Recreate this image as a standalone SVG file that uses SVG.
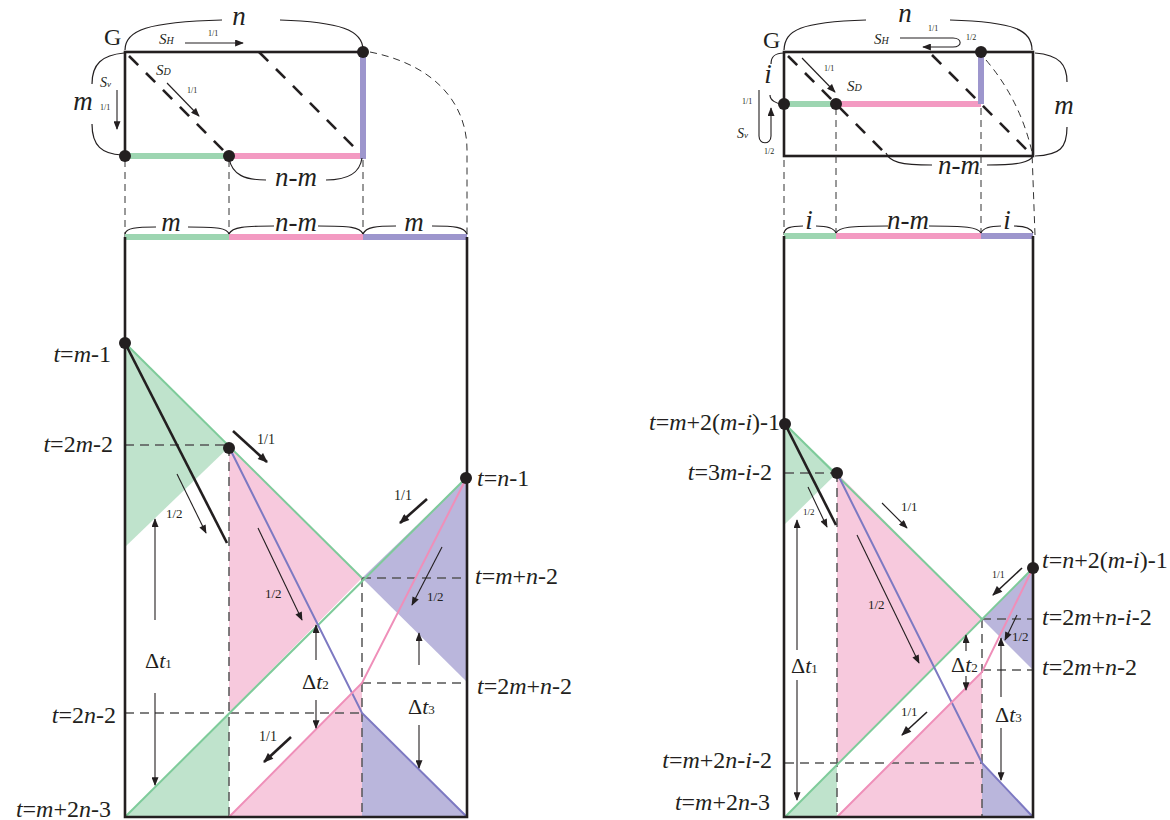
<svg xmlns="http://www.w3.org/2000/svg" width="1170" height="820" viewBox="0 0 1170 820">
<defs>
<style>
text{font-family:"Liberation Serif","Times New Roman",serif;fill:#231f20}
.it{font-style:italic}
.t24{font-size:24px}
.big{font-size:27px;font-style:italic}
.s14{font-size:14px}
.s13{font-size:13px}
.s10{font-size:10px}
.s8{font-size:8px}
.frame{fill:none;stroke:#231f20;stroke-width:2.6}
.brace{fill:none;stroke:#231f20;stroke-width:1.2}
.vd{fill:none;stroke:#333;stroke-width:1;stroke-dasharray:7 5}
.gd{fill:none;stroke:#555;stroke-width:1.5;stroke-dasharray:9 6}
.bd{fill:none;stroke:#231f20;stroke-width:2.6;stroke-dasharray:13 11}
.gf{fill:#bfe3cc}
.pf{fill:#f7c9dd}
.uf{fill:#bab6dc}
.gl{fill:none;stroke:#7ecb9a;stroke-width:2}
.pl{fill:none;stroke:#ef8fb9;stroke-width:2}
.ul{fill:none;stroke:#7d79c2;stroke-width:2}
.gb{stroke:#9dd5b1;stroke-width:6}
.pb{stroke:#f39ac2;stroke-width:6}
.ub{stroke:#9d96cd;stroke-width:6}
.thick{stroke:#231f20;stroke-width:2.6;fill:none;marker-end:url(#ah)}
.mid{stroke:#231f20;stroke-width:1.6;fill:none;marker-end:url(#ah)}
.thin{stroke:#231f20;stroke-width:1.1;fill:none;marker-end:url(#as)}
.dot{fill:#231f20}
</style>
<marker id="ah" viewBox="0 0 10 8" refX="9" refY="4" markerWidth="11" markerHeight="8" markerUnits="userSpaceOnUse" orient="auto"><path d="M0,0 L10,4 L0,8 z" fill="#231f20"/></marker>
<marker id="as" viewBox="0 0 10 8" refX="9" refY="4" markerWidth="10" markerHeight="7" markerUnits="userSpaceOnUse" orient="auto"><path d="M0,0 L10,4 L0,8 z" fill="#231f20"/></marker>
</defs>

<!-- ================= LEFT DIAGRAM ================= -->
<g id="left-top">
  <rect x="125" y="52" width="238" height="104" class="frame"/>
  <line x1="125" y1="156" x2="229" y2="156" class="gb"/>
  <line x1="229" y1="156" x2="363" y2="156" class="pb"/>
  <line x1="363" y1="55" x2="363" y2="159" class="ub"/>
  <line x1="129" y1="56" x2="226" y2="153" class="bd"/>
  <line x1="259" y1="52" x2="358" y2="151" class="bd"/>
  <path d="M370,52 C440,66 467,108 467,150 L467,237" class="vd"/>
  <line x1="125" y1="160" x2="125" y2="237" class="vd"/>
  <line x1="229" y1="160" x2="229" y2="237" class="vd"/>
  <line x1="363" y1="160" x2="363" y2="237" class="vd"/>
  <path d="M125,50 C125,30 148,22 222,20 M280,20 C340,22 363,30 363,50" class="brace"/>
  <path d="M124,53 C102,55 92,64 92,84 M92,124 C92,146 102,154 122,155" class="brace"/>
  <path d="M229,158 C232,175 245,180 266,180 M326,180 C350,180 360,172 362,158" class="brace"/>
  <text x="239" y="25" class="big" text-anchor="middle">n</text>
  <text x="83" y="110" class="big" text-anchor="middle">m</text>
  <text x="296" y="186" class="big" text-anchor="middle">n-m</text>
  <text x="104" y="45" style="font-size:24px">G</text>
  <text x="159" y="44" class="it" style="font-size:15px">S<tspan style="font-size:10px">H</tspan></text>
  <line x1="185" y1="43" x2="243" y2="43" class="thin"/>
  <text x="208" y="36" class="s8">1/1</text>
  <text x="156" y="75" class="it" style="font-size:15px">S<tspan style="font-size:10px">D</tspan></text>
  <line x1="167" y1="83" x2="199" y2="116" class="thin"/>
  <text x="187" y="93" class="s8">1/1</text>
  <text x="100" y="87" class="it" style="font-size:14px">S<tspan style="font-size:9px">v</tspan></text>
  <line x1="117" y1="90" x2="117" y2="129" class="thin"/>
  <text x="100" y="110" class="s8">1/1</text>
  <circle cx="363" cy="52" r="6" class="dot"/>
  <circle cx="125" cy="156" r="6" class="dot"/>
  <circle cx="229" cy="156" r="6" class="dot"/>
</g>

<g id="left-bar">
  <line x1="125" y1="237" x2="229" y2="237" class="gb"/>
  <line x1="229" y1="237" x2="363" y2="237" class="pb"/>
  <line x1="363" y1="237" x2="467" y2="237" class="ub"/>
  <path d="M125,234 C126,228 136,227 156,227 M188,227 C218,227 227,228 229,234" class="brace"/>
  <path d="M229,234 C232,227 245,226 274,226 M318,226 C350,226 360,227 363,234" class="brace"/>
  <path d="M363,234 C366,227 376,226 396,226 M432,226 C455,226 464,227 467,234" class="brace"/>
  <text x="171" y="231" class="big" text-anchor="middle">m</text>
  <text x="296" y="231" class="big" text-anchor="middle">n-m</text>
  <text x="414" y="231" class="big" text-anchor="middle">m</text>
</g>

<g id="left-regions">
  <polygon points="125,343 229,447 125,547" class="gf"/>
  <polygon points="229,447 362,578 229,713" class="pf"/>
  <polygon points="467,477 362,578 467,682" class="uf"/>
  <polygon points="125,817 229,713 229,817" class="gf"/>
  <polygon points="229,817 362,683 362,817" class="pf"/>
  <polygon points="362,713 467,817 362,817" class="uf"/>
</g>

<g id="left-connectors">
  <line x1="125" y1="445" x2="229" y2="445" class="gd"/>
  <line x1="229" y1="447" x2="229" y2="817" class="gd"/>
  <line x1="362" y1="578" x2="362" y2="817" class="gd"/>
  <line x1="362" y1="578" x2="467" y2="578" class="gd"/>
  <line x1="362" y1="683" x2="467" y2="683" class="gd"/>
  <line x1="125" y1="713" x2="362" y2="713" class="gd"/>
  <line x1="125" y1="343" x2="362" y2="578" class="gl"/>
  <line x1="125" y1="817" x2="467" y2="477" class="gl"/>
  <polyline points="229,447 362,713 467,817" class="ul"/>
  <polyline points="229,817 362,683 467,477" class="pl"/>
  <line x1="125" y1="343" x2="227" y2="543" stroke="#231f20" stroke-width="2.6"/>
  <line x1="233" y1="431" x2="267" y2="462" class="thick"/>
  <line x1="177" y1="474" x2="206" y2="533" class="thin"/>
  <line x1="155" y1="620" x2="155" y2="519" class="thin"/>
  <line x1="155" y1="693" x2="155" y2="785" class="thin"/>
  <line x1="258" y1="528" x2="302" y2="620" class="thin"/>
  <line x1="427" y1="499" x2="400" y2="523" class="thick"/>
  <line x1="442" y1="547" x2="412" y2="605" class="thin"/>
  <line x1="316" y1="660" x2="316" y2="625" class="thin"/>
  <line x1="316" y1="700" x2="316" y2="728" class="thin"/>
  <line x1="419" y1="665" x2="419" y2="633" class="thin"/>
  <line x1="419" y1="725" x2="419" y2="768" class="thin"/>
  <line x1="291" y1="737" x2="264" y2="762" class="thick"/>
</g>

<g id="left-labels">
  <text x="257" y="444" class="s14">1/1</text>
  <text x="166" y="518" class="s13">1/2</text>
  <text x="265" y="598" class="s13">1/2</text>
  <text x="394" y="500" class="s14">1/1</text>
  <text x="427" y="601" class="s13">1/2</text>
  <text x="259" y="741" class="s14">1/1</text>
  <text x="145" y="668" style="font-size:22px">Δ<tspan class="it">t</tspan><tspan style="font-size:13px">1</tspan></text>
  <text x="302" y="689" style="font-size:22px">Δ<tspan class="it">t</tspan><tspan style="font-size:13px">2</tspan></text>
  <text x="408" y="714" style="font-size:22px">Δ<tspan class="it">t</tspan><tspan style="font-size:13px">3</tspan></text>
  <text x="111" y="362" class="t24" text-anchor="end"><tspan class="it">t</tspan>=<tspan class="it">m</tspan>-1</text>
  <text x="113" y="452" class="t24" text-anchor="end"><tspan class="it">t</tspan>=2<tspan class="it">m</tspan>-2</text>
  <text x="116" y="723" class="t24" text-anchor="end"><tspan class="it">t</tspan>=2<tspan class="it">n</tspan>-2</text>
  <text x="111" y="817" class="t24" text-anchor="end"><tspan class="it">t</tspan>=<tspan class="it">m</tspan>+2<tspan class="it">n</tspan>-3</text>
  <text x="477" y="486" class="t24"><tspan class="it">t</tspan>=<tspan class="it">n</tspan>-1</text>
  <text x="475" y="584" class="t24"><tspan class="it">t</tspan>=<tspan class="it">m</tspan>+<tspan class="it">n</tspan>-2</text>
  <text x="477" y="694" class="t24"><tspan class="it">t</tspan>=2<tspan class="it">m</tspan>+<tspan class="it">n</tspan>-2</text>
</g>

<g id="left-frame">
  <path d="M125,237 V817 H467 V237" class="frame"/>
  <circle cx="125" cy="343" r="6" class="dot"/>
  <circle cx="229" cy="448" r="6" class="dot"/>
  <circle cx="466" cy="478" r="6" class="dot"/>
</g>

<!-- ================= RIGHT DIAGRAM ================= -->
<g id="right-top">
  <rect x="784" y="52" width="249" height="104" class="frame"/>
  <line x1="784" y1="104" x2="836" y2="104" class="gb"/>
  <line x1="836" y1="104" x2="981" y2="104" class="pb"/>
  <line x1="981" y1="55" x2="981" y2="104" class="ub"/>
  <line x1="788" y1="56" x2="886" y2="154" class="bd"/>
  <line x1="932" y1="55" x2="1030" y2="153" class="bd"/>
  <path d="M986,60 Q1020,100 1032,152 L1035,235" class="vd"/>
  <line x1="784" y1="160" x2="784" y2="235" class="vd"/>
  <line x1="836" y1="108" x2="836" y2="235" class="vd"/>
  <line x1="981" y1="108" x2="981" y2="235" class="vd"/>
  <path d="M784,50 C785,30 800,22 866,20 M950,20 C1015,22 1032,30 1032,50" class="brace"/>
  <path d="M784,53 C774,53 771,57 771,64 M770,95 C770,100 776,104 783,104" class="brace"/>
  <path d="M1035,53 C1060,55 1067,65 1067,82 M1067,127 C1067,148 1060,155 1035,156" class="brace"/>
  <path d="M886,153 C890,162 900,165 932,165 M987,165 C1020,165 1030,162 1033,156" class="brace"/>
  <text x="905" y="22" class="big" text-anchor="middle">n</text>
  <text x="768" y="83" class="big" text-anchor="middle">i</text>
  <text x="1064" y="114" class="big" text-anchor="middle">m</text>
  <text x="959" y="174" class="big" text-anchor="middle">n-m</text>
  <text x="763" y="48" style="font-size:24px">G</text>
  <text x="874" y="44" class="it" style="font-size:15px">S<tspan style="font-size:10px">H</tspan></text>
  <path d="M900,38 L953,38 C962,38 963,47 953,47 L923,47" class="thin"/>
  <text x="928" y="31" class="s8">1/1</text>
  <text x="966" y="40" class="s8">1/2</text>
  <text x="847" y="91" class="it" style="font-size:15px">S<tspan style="font-size:10px">D</tspan></text>
  <line x1="802" y1="58" x2="835" y2="92" class="thin"/>
  <text x="824" y="71" class="s8">1/1</text>
  <text x="737" y="138" class="it" style="font-size:14px">S<tspan style="font-size:9px">v</tspan></text>
  <path d="M759,90 L759,136 C759,145 771,145 771,136 L771,108" class="thin"/>
  <text x="742" y="104" class="s8">1/1</text>
  <text x="764" y="154" class="s8">1/2</text>
  <circle cx="981" cy="52" r="6" class="dot"/>
  <circle cx="784" cy="104" r="6" class="dot"/>
  <circle cx="836" cy="104" r="6" class="dot"/>
</g>

<g id="right-bar">
  <line x1="784" y1="236" x2="836" y2="236" class="gb"/>
  <line x1="836" y1="236" x2="981" y2="236" class="pb"/>
  <line x1="981" y1="236" x2="1033" y2="236" class="ub"/>
  <path d="M784,233 C785,228 790,226 803,226 M816,226 C828,226 834,228 836,233" class="brace"/>
  <path d="M836,233 C839,227 850,226 888,226 M929,226 C965,226 978,227 981,233" class="brace"/>
  <path d="M981,233 C983,228 990,226 1001,226 M1014,226 C1025,226 1031,228 1033,233" class="brace"/>
  <text x="809" y="229" class="big" text-anchor="middle">i</text>
  <text x="908" y="229" class="big" text-anchor="middle">n-m</text>
  <text x="1007" y="229" class="big" text-anchor="middle">i</text>
</g>

<g id="right-regions">
  <polygon points="785,424 837,473 785,524" class="gf"/>
  <polygon points="837,473 982,619 837,765" class="pf"/>
  <polygon points="1033,568 982,619 1033,670" class="uf"/>
  <polygon points="785,817 837,765 837,817" class="gf"/>
  <polygon points="837,817 982,672 982,817" class="pf"/>
  <polygon points="982,763 1033,817 982,817" class="uf"/>
</g>

<g id="right-connectors">
  <line x1="785" y1="473" x2="837" y2="473" class="gd"/>
  <line x1="837" y1="473" x2="837" y2="817" class="gd"/>
  <line x1="982" y1="619" x2="982" y2="817" class="gd"/>
  <line x1="982" y1="619" x2="1033" y2="619" class="gd"/>
  <line x1="982" y1="670" x2="1033" y2="670" class="gd"/>
  <line x1="785" y1="763" x2="982" y2="763" class="gd"/>
  <line x1="785" y1="424" x2="982" y2="619" class="gl"/>
  <line x1="785" y1="817" x2="1033" y2="568" class="gl"/>
  <polyline points="837,473 982,763 1033,817" class="ul"/>
  <polyline points="837,817 982,672 1033,568" class="pl"/>
  <line x1="785" y1="424" x2="836" y2="525" stroke="#231f20" stroke-width="2.6"/>
  <line x1="808" y1="487" x2="827" y2="527" class="thin"/>
  <line x1="797" y1="650" x2="797" y2="520" class="thin"/>
  <line x1="797" y1="680" x2="797" y2="800" class="thin"/>
  <line x1="882" y1="503" x2="907" y2="528" class="thin"/>
  <line x1="857" y1="535" x2="919" y2="663" class="thin"/>
  <line x1="927" y1="712" x2="902" y2="735" class="mid"/>
  <line x1="1022" y1="568" x2="993" y2="595" class="mid"/>
  <line x1="1017" y1="615" x2="1005" y2="640" class="thin"/>
  <line x1="966" y1="651" x2="966" y2="635" class="thin"/>
  <line x1="966" y1="676" x2="966" y2="690" class="thin"/>
  <line x1="1001" y1="697" x2="1001" y2="638" class="thin"/>
  <line x1="1001" y1="728" x2="1001" y2="780" class="thin"/>
</g>

<g id="right-labels">
  <text x="803" y="515" style="font-size:9px">1/2</text>
  <text x="901" y="511" class="s13">1/1</text>
  <text x="868" y="609" class="s13">1/2</text>
  <text x="901" y="716" class="s13">1/1</text>
  <text x="992" y="578" class="s10">1/1</text>
  <text x="1012" y="641" class="s13">1/2</text>
  <text x="791" y="673" style="font-size:22px">Δ<tspan class="it">t</tspan><tspan style="font-size:13px">1</tspan></text>
  <text x="951" y="672" style="font-size:22px">Δ<tspan class="it">t</tspan><tspan style="font-size:13px">2</tspan></text>
  <text x="995" y="722" style="font-size:22px">Δ<tspan class="it">t</tspan><tspan style="font-size:13px">3</tspan></text>
  <text x="649" y="430" class="t24"><tspan class="it">t</tspan>=<tspan class="it">m</tspan>+2(<tspan class="it">m</tspan>-<tspan class="it">i</tspan>)-1</text>
  <text x="772" y="480" class="t24" text-anchor="end"><tspan class="it">t</tspan>=3<tspan class="it">m</tspan>-<tspan class="it">i</tspan>-2</text>
  <text x="772" y="768" class="t24" text-anchor="end"><tspan class="it">t</tspan>=<tspan class="it">m</tspan>+2<tspan class="it">n</tspan>-<tspan class="it">i</tspan>-2</text>
  <text x="770" y="810" class="t24" text-anchor="end"><tspan class="it">t</tspan>=<tspan class="it">m</tspan>+2<tspan class="it">n</tspan>-3</text>
  <text x="1042" y="568" class="t24"><tspan class="it">t</tspan>=<tspan class="it">n</tspan>+2(<tspan class="it">m</tspan>-<tspan class="it">i</tspan>)-1</text>
  <text x="1042" y="625" class="t24"><tspan class="it">t</tspan>=2<tspan class="it">m</tspan>+<tspan class="it">n</tspan>-<tspan class="it">i</tspan>-2</text>
  <text x="1042" y="675" class="t24"><tspan class="it">t</tspan>=2<tspan class="it">m</tspan>+<tspan class="it">n</tspan>-2</text>
</g>

<g id="right-frame">
  <path d="M784,236 V817 H1033 V236" class="frame"/>
  <circle cx="785" cy="424" r="6" class="dot"/>
  <circle cx="837" cy="473" r="6" class="dot"/>
  <circle cx="1033" cy="568" r="6" class="dot"/>
</g>
</svg>
